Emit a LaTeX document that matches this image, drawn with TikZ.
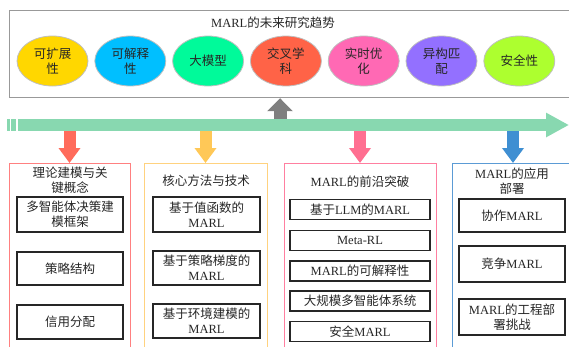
\documentclass[tikz,border=0pt]{standalone}
\usepackage{fontspec}
\setmainfont{Liberation Serif}
\newfontfamily\cjk{Noto Sans CJK SC}
\newcommand\zh[1]{{\cjk #1}}
\usetikzlibrary{shapes.geometric,arrows.meta}
\definecolor{barG}{HTML}{88D8B0}
\definecolor{arrGray}{HTML}{7F7F7F}
\definecolor{arrR}{HTML}{FF6B5B}
\definecolor{arrY}{HTML}{FFC857}
\definecolor{arrP}{HTML}{FF6F91}
\definecolor{arrB}{HTML}{3F8FD2}
\definecolor{panR}{HTML}{FF8080}
\definecolor{panY}{HTML}{FFD27F}
\definecolor{panP}{HTML}{FF7FA0}
\definecolor{panB}{HTML}{5B9BD5}
\definecolor{eA}{HTML}{FFD700}
\definecolor{eB}{HTML}{00BFFF}
\definecolor{eC}{HTML}{00FA9A}
\definecolor{eD}{HTML}{FF6347}
\definecolor{eE}{HTML}{FF69B4}
\definecolor{eF}{HTML}{9370FF}
\definecolor{eG}{HTML}{ADFF2F}
\definecolor{txt}{HTML}{262626}
\begin{document}
\begin{tikzpicture}[x=1pt,y=-1pt,
  every node/.style={text=txt,font=\fontsize{12.5}{15}\selectfont,align=center,inner sep=0pt},
  ell/.style={ellipse,draw=black!25,line width=0.8pt,minimum width=71pt,minimum height=50pt},
  panel/.style={draw,line width=0.9pt,minimum width=#1,minimum height=195pt,anchor=north},
  ibox/.style={draw=black!85,line width=1.1pt,minimum width=#1},
  darr/.style={line width=12pt,-{Triangle[width=21pt,length=15pt]},#1},
]
\clip (0,0) rectangle (569,346);
\useasboundingbox (0,0) rectangle (569,346);
% top box
\node[draw=black!40,line width=1.2pt,minimum width=565pt,minimum height=87pt,anchor=north west] (tb) at (9,10) {};
\node (tt) at (273,23) {MARL\zh{的未来研究趋势}};
\node[ell,fill=eA] (e1) at (52.5,61) {\zh{可扩展}\\\zh{性}};
\node[ell,fill=eB] (e2) at (130.3,61) {\zh{可解释}\\\zh{性}};
\node[ell,fill=eC] (e3) at (208.1,61) {\zh{大模型}};
\node[ell,fill=eD] (e4) at (285.9,61) {\zh{交叉学}\\\zh{科}};
\node[ell,fill=eE] (e5) at (363.7,61) {\zh{实时优}\\\zh{化}};
\node[ell,fill=eF] (e6) at (441.5,61) {\zh{异构匹}\\\zh{配}};
\node[ell,fill=eG] (e7) at (519.3,61) {\zh{安全性}};
% timeline bar
\fill[barG] (7,119) rectangle (10,131);
\fill[barG] (11,119) rectangle (16,131);
\coordinate (bs) at (18,125);
\coordinate (be) at (569,125);
\draw[barG,line width=12pt,-{Triangle[width=23pt,length=23pt]}] (bs) -- (be);
% up arrow
\coordinate (ua) at (280,119);
\draw[arrGray,line width=13pt,-{Triangle[width=25pt,length=13pt]}] (ua) -- (ua |- tb.south);
% panels
\node[panel=121pt,draw=panR] (p1) at (69.5,163) {};
\node[panel=123pt,draw=panY] (p2) at (205.5,163) {};
\node[panel=152pt,draw=panP] (p3) at (360,163) {};
\node[panel=122pt,draw=panB] (p4) at (513,163) {};
\coordinate (d1) at (69.5,131);
\coordinate (d2) at (205.5,131);
\coordinate (d3) at (360,131);
\coordinate (d4) at (513,131);
\draw[darr=arrR] (d1) -- (p1.north);
\draw[darr=arrY] (d2) -- (p2.north);
\draw[darr=arrP] (d3) -- (p3.north);
\draw[darr=arrB] (d4) -- (p4.north);
% panel titles
\node (t1) at (70,180.5) {\zh{理论建模与关}\\\zh{键概念}};
\node (t2) at (206,181) {\zh{核心方法与技术}};
\node (t3) at (360,182) {MARL\zh{的前沿突破}};
\node (t4) at (512,181) {MARL\zh{的应用}\\\zh{部署}};
% panel 1 boxes
\node[ibox=106pt,minimum height=35pt] (a1) at (70,214.5) {\zh{多智能体决策建}\\\zh{模框架}};
\node[ibox=106pt,minimum height=33pt] (a2) at (70,268.5) {\zh{策略结构}};
\node[ibox=106pt,minimum height=34pt] (a3) at (70,322) {\zh{信用分配}};
% panel 2 boxes
\node[ibox=107pt,minimum height=35pt] (b1) at (206.5,214.5) {\zh{基于值函数的}\\MARL};
\node[ibox=107pt,minimum height=34pt] (b2) at (206.5,268) {\zh{基于策略梯度的}\\MARL};
\node[ibox=107pt,minimum height=34pt] (b3) at (206.5,321) {\zh{基于环境建模的}\\MARL};
% panel 3 boxes
\node[ibox=140pt,minimum height=20pt] (c1) at (360,209.5) {\zh{基于}LLM\zh{的}MARL};
\node[ibox=140pt,minimum height=20pt] (c2) at (360,240.5) {Meta-RL};
\node[ibox=140pt,minimum height=20pt] (c3) at (360,271) {MARL\zh{的可解释性}};
\node[ibox=140pt,minimum height=20pt] (c4) at (360,301) {\zh{大规模多智能体系统}};
\node[ibox=140pt,minimum height=20pt] (c5) at (360,331.5) {\zh{安全}MARL};
% panel 4 boxes
\node[ibox=106pt,minimum height=33pt] (f1) at (512,215.5) {\zh{协作}MARL};
\node[ibox=106pt,minimum height=36pt] (f2) at (512,264) {\zh{竞争}MARL};
\node[ibox=106pt,minimum height=36pt] (f3) at (512,317) {MARL\zh{的工程部}\\\zh{署挑战}};
\end{tikzpicture}
\end{document}
